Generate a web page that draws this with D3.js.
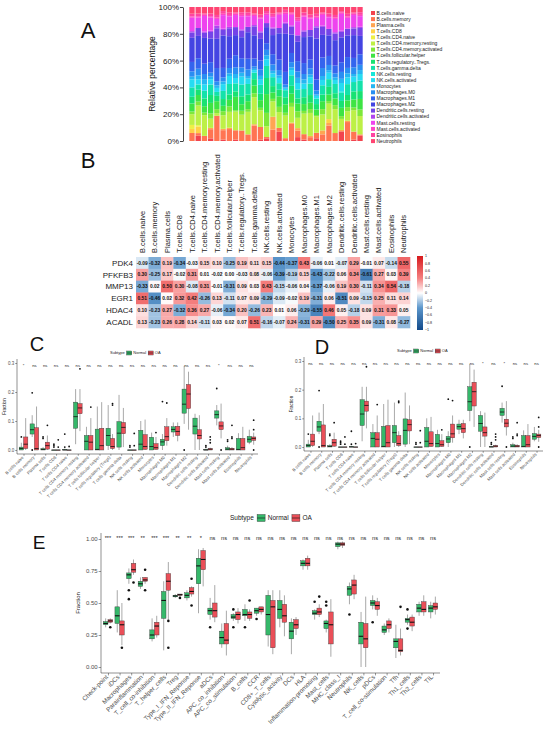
<!DOCTYPE html>
<html>
<head>
<meta charset="utf-8">
<script src="https://cdn.jsdelivr.net/npm/d3@7"></script>
<style>
  html, body { margin: 0; padding: 0; background: #fff; }
  svg { display: block; font-family: "Liberation Sans", Arial, sans-serif; }
</style>
</head>
<body>
<script>
(function () {
  'use strict';

  // ---- data -------------------------------------------------------------
  var cellTypes = ['B cells naive', 'B cells memory', 'Plasma cells', 'T cells CD8',
    'T cells CD4 naive', 'T cells CD4 memory resting', 'T cells CD4 memory activated',
    'T cells follicular helper', 'T cells regulatory (Tregs)', 'T cells gamma delta',
    'NK cells resting', 'NK cells activated', 'Monocytes', 'Macrophages M0',
    'Macrophages M1', 'Macrophages M2', 'Dendritic cells resting',
    'Dendritic cells activated', 'Mast cells resting', 'Mast cells activated',
    'Eosinophils', 'Neutrophils'];

  var sampleIds = ['S01', 'S02', 'S03', 'S04', 'S05', 'S06', 'S07', 'S08', 'S09', 'S10',
    'S11', 'S12', 'S13', 'S14', 'S15', 'S16', 'S17', 'S18', 'S19', 'S20',
    'S21', 'S22', 'S23', 'S24', 'S25', 'S26', 'S27', 'S28'];

  // relative abundance (%) per cell type (rows) and sample (columns), panel A
  var cellFractions = [
    [0, 4, 0, 2, 0, 1, 0, 1, 0, 0, 0, 1, 2, 0, 7, 0, 0, 3, 1, 0, 2, 0, 0, 0, 7, 0, 1, 4],
    [6, 2, 4, 7, 19, 7, 9, 7, 8, 5, 12, 10, 1, 9, 3, 2, 13, 5, 4, 3, 4, 5, 12, 6, 0, 14, 6, 1],
    [0, 0, 0, 1, 0, 1, 1, 0, 0, 0, 1, 0, 0, 10, 0, 0, 1, 2, 0, 1, 0, 3, 2, 0, 1, 1, 0, 0],
    [3, 5, 0, 0, 0, 0, 0, 0, 0, 0, 0, 0, 0, 0, 0, 0, 0, 0, 0, 0, 0, 0, 3, 0, 0, 0, 0, 0],
    [3, 1, 0, 0, 0, 0, 0, 0, 0, 0, 0, 0, 0, 0, 0, 0, 0, 0, 0, 0, 0, 0, 0, 0, 0, 0, 0, 0],
    [8, 15, 16, 7, 2, 10, 12, 14, 12, 17, 21, 13, 8, 12, 12, 16, 12, 8, 15, 18, 12, 12, 12, 18, 8, 7, 16, 14],
    [2, 3, 2, 4, 3, 3, 4, 1, 3, 2, 3, 2, 10, 2, 4, 2, 3, 5, 2, 3, 1, 4, 2, 3, 2, 3, 2, 5],
    [6, 5, 5, 8, 6, 4, 5, 10, 5, 6, 6, 6, 14, 5, 8, 6, 7, 6, 5, 5, 4, 6, 5, 5, 6, 5, 6, 8],
    [5, 4, 6, 6, 4, 5, 4, 4, 6, 5, 5, 5, 12, 5, 5, 5, 6, 4, 5, 6, 4, 5, 6, 4, 5, 4, 6, 6],
    [7, 4, 6, 8, 3, 6, 8, 6, 9, 8, 5, 7, 9, 7, 5, 5, 8, 7, 6, 9, 4, 7, 6, 7, 6, 8, 7, 8],
    [0, 0, 0, 0, 0, 0, 0, 0, 0, 0, 0, 0, 0, 0, 0, 0, 0, 0, 0, 0, 0, 0, 0, 0, 1, 0, 0, 0],
    [6, 4, 5, 4, 3, 5, 6, 4, 6, 4, 2, 4, 5, 3, 4, 1, 4, 5, 4, 5, 2, 4, 5, 3, 6, 5, 4, 5],
    [2, 3, 4, 2, 2, 2, 2, 3, 3, 2, 1, 3, 3, 2, 2, 1, 2, 4, 3, 2, 1, 3, 2, 2, 3, 3, 2, 3],
    [4, 5, 4, 3, 3, 3, 4, 5, 4, 5, 2, 5, 4, 5, 4, 2, 4, 5, 4, 5, 3, 6, 4, 3, 5, 4, 5, 4],
    [7, 8, 8, 8, 10, 7, 7, 9, 7, 8, 6, 7, 5, 8, 8, 9, 7, 8, 8, 7, 8, 8, 7, 6, 7, 8, 7, 8],
    [18, 17, 20, 18, 22, 24, 17, 15, 16, 20, 18, 17, 12, 15, 20, 27, 14, 15, 19, 18, 30, 17, 16, 19, 18, 16, 17, 14],
    [4, 6, 4, 5, 8, 4, 6, 6, 5, 4, 7, 5, 3, 5, 4, 7, 6, 5, 4, 5, 8, 6, 5, 5, 4, 5, 5, 6],
    [1, 0, 1, 1, 2, 1, 1, 0, 1, 0, 1, 1, 0, 1, 0, 1, 1, 0, 1, 0, 1, 1, 0, 1, 1, 0, 1, 1],
    [10, 8, 12, 10, 5, 10, 8, 9, 10, 8, 7, 10, 6, 8, 10, 6, 8, 11, 10, 9, 6, 8, 9, 10, 12, 8, 9, 8],
    [1, 1, 1, 1, 1, 1, 1, 1, 1, 1, 1, 1, 1, 1, 1, 1, 1, 1, 1, 1, 1, 1, 1, 1, 1, 1, 1, 1],
    [2, 2, 1, 2, 2, 2, 2, 1, 2, 2, 1, 2, 2, 2, 1, 2, 1, 2, 2, 2, 2, 1, 2, 2, 1, 2, 1, 2],
    [5, 5, 5, 5, 6, 3, 4, 4, 4, 4, 5, 6, 3, 5, 4, 2, 4, 8, 4, 6, 5, 4, 5, 6, 3, 5, 4, 4]
  ];

  // gene vs immune cell correlation, panel B
  var heatGenes = ['PDK4', 'PFKFB3', 'MMP13', 'EGR1', 'HDAC4', 'ACADL'];
  var corPDK4 = [-0.09, -0.32, 0.19, -0.34, -0.03, 0.15, 0.10, -0.25, 0.19, 0.11, 0.15, -0.44, -0.37, 0.43, -0.06, 0.01, -0.07, 0.29, -0.01, 0.07, -0.14, 0.55];
  var corPFKFB3 = [0.30, -0.25, 0.17, -0.02, 0.31, 0.01, -0.02, 0.00, -0.03, 0.08, -0.06, -0.39, -0.19, 0.15, -0.43, -0.22, 0.06, 0.34, -0.61, 0.27, 0.03, 0.39];
  var corMMP13 = [-0.33, 0.02, 0.50, 0.30, -0.08, 0.31, -0.01, -0.31, 0.09, 0.03, 0.43, -0.15, -0.06, 0.04, -0.37, -0.06, 0.19, 0.30, -0.11, 0.34, 0.54, -0.18];
  var corEGR1 = [0.51, -0.46, 0.02, 0.32, 0.42, -0.26, 0.13, -0.11, 0.07, 0.09, -0.29, -0.09, -0.02, 0.19, -0.31, 0.06, -0.51, 0.09, -0.15, 0.25, 0.11, 0.14];
  var corHDAC4 = [0.10, -0.23, 0.27, -0.32, 0.36, 0.27, -0.06, -0.34, 0.20, -0.26, 0.23, 0.01, 0.06, -0.29, -0.55, 0.46, 0.05, -0.18, 0.09, 0.31, 0.33, 0.05];
  var corACADL = [0.13, -0.23, 0.26, 0.28, 0.14, -0.11, 0.03, 0.02, 0.07, 0.51, -0.16, -0.07, 0.24, -0.31, 0.29, -0.50, 0.25, 0.35, 0.09, -0.31, 0.08, -0.27];
  var heatValues = [corPDK4, corPFKFB3, corMMP13, corEGR1, corHDAC4, corACADL];
  var heatLegendTicks = [1, 0.8, 0.6, 0.4, 0.2, 0, -0.2, -0.4, -0.6, -0.8, -1];

  // CIBERSORT fractions, panels C and D: [min, q1, median, q3, max]
  var cibNormal = [
    [0, 0, 0.005, 0.01, 0.025], [0.045, 0.055, 0.07, 0.09, 0.12], [0, 0, 0.002, 0.005, 0.01],
    [0, 0, 0, 0, 0], [0, 0, 0, 0.002, 0.005], [0.02, 0.075, 0.115, 0.165, 0.21],
    [0, 0, 0.03, 0.05, 0.08], [0, 0, 0.002, 0.072, 0.15], [0, 0.015, 0.05, 0.075, 0.155],
    [0, 0.01, 0.058, 0.098, 0.19], [0, 0, 0, 0, 0], [0, 0, 0.02, 0.068, 0.1],
    [0, 0, 0.012, 0.044, 0.06], [0, 0.015, 0.028, 0.037, 0.055], [0.045, 0.062, 0.071, 0.08, 0.095],
    [0.09, 0.127, 0.158, 0.21, 0.29], [0, 0.055, 0.082, 0.11, 0.125], [0, 0, 0, 0.002, 0.005],
    [0.085, 0.11, 0.122, 0.135, 0.155], [0, 0, 0.003, 0.008, 0.015], [0, 0, 0.002, 0.04, 0.058],
    [0.02, 0.027, 0.037, 0.047, 0.07]
  ];
  var cibOA = [
    [0, 0.005, 0.02, 0.045, 0.11], [0, 0, 0.005, 0.077, 0.15], [0, 0.003, 0.015, 0.027, 0.05],
    [0, 0, 0, 0, 0], [0, 0, 0, 0, 0], [0.065, 0.125, 0.145, 0.16, 0.21],
    [0, 0, 0.027, 0.05, 0.11], [0, 0, 0.015, 0.075, 0.165], [0, 0.005, 0.012, 0.04, 0.055],
    [0.01, 0.056, 0.078, 0.095, 0.145], [0, 0, 0, 0, 0], [0, 0.002, 0.012, 0.053, 0.105],
    [0, 0.002, 0.008, 0.022, 0.045], [0.015, 0.032, 0.046, 0.08, 0.11], [0.03, 0.05, 0.064, 0.082, 0.095],
    [0.07, 0.143, 0.193, 0.226, 0.27], [0, 0.038, 0.05, 0.07, 0.12], [0, 0, 0.003, 0.005, 0.008],
    [0.04, 0.07, 0.083, 0.097, 0.16], [0, 0, 0.003, 0.006, 0.01], [0, 0, 0.008, 0.04, 0.08],
    [0.018, 0.033, 0.04, 0.045, 0.06]
  ];
  var cibNormalOut = [[0.045], [0.197, 0], [0.04, 0.045], [0.01, 0.015, 0.02], [0.055, 0.01], [], [], [], [], [],
    [0.01, 0.015], [], [], [0.167], [], [0], [], [0.01, 0.015], [0.212], [0.03, 0.035], [], []];
  var cibOAOut = [[], [], [0.085], [0.035, 0.01], [0.012], [0.28], [0.148], [], [0.155, 0.16], [],
    [0.057, 0.015], [], [0.06], [0.162], [], [], [], [0.045, 0.035, 0.025], [0], [0.085, 0.045, 0.04], [], [0.103, 0.07, 0]];
  var sigC = ['*', 'ns', 'ns', 'ns', 'ns', 'ns', 'ns', 'ns', 'ns', 'ns', 'ns', 'ns', 'ns', 'ns', 'ns', 'ns', 'ns', 'ns', '*', 'ns', 'ns', 'ns'];
  var sigD = ['ns', 'ns', 'ns', 'ns', 'ns', 'ns', 'ns', 'ns', 'ns', 'ns', 'ns', 'ns', 'ns', 'ns', 'ns', 'ns', '*', 'ns', '*', 'ns', 'ns', 'ns'];

  // ssGSEA immune scores, panel E: [min, q1, median, q3, max]
  var immuneSets = ['Check-point', 'iDCs', 'Macrophages', 'Parainflammation', 'T_cell_co-inhibition',
    'T_helper_cells', 'Treg', 'Type_I_IFN_Reponse', 'Type_II_IFN_Reponse', 'aDCs',
    'APC_co_inhibition', 'APC_co_stimulation', 'B_cells', 'CCR', 'CD8+_T_cells',
    'Cytolytic_activity', 'DCs', 'HLA', 'Inflammation-promoting', 'Mast_cells',
    'MHC_class_I', 'Neutrophils', 'NK_cells', 'pDCs', 'T_cell_co-stimulation',
    'Tfh', 'Th1_cells', 'Th2_cells', 'TIL'];
  var essNormal = [
    [0.31, 0.33, 0.34, 0.355, 0.38], [0.27, 0.34, 0.40, 0.47, 0.60], [0.65, 0.69, 0.72, 0.735, 0.77],
    [0.61, 0.63, 0.65, 0.67, 0.70], [0.20, 0.22, 0.25, 0.29, 0.38], [0.13, 0.38, 0.52, 0.59, 0.67],
    [0.54, 0.548, 0.555, 0.56, 0.57], [0.52, 0.54, 0.56, 0.58, 0.60], [0.42, 0.65, 0.79, 0.85, 0.92],
    [0.37, 0.41, 0.44, 0.46, 0.54], [0.15, 0.18, 0.23, 0.28, 0.34], [0.36, 0.38, 0.39, 0.41, 0.42],
    [0.36, 0.40, 0.41, 0.45, 0.49], [0.40, 0.42, 0.44, 0.46, 0.46], [0.16, 0.25, 0.41, 0.56, 0.60],
    [0.31, 0.38, 0.45, 0.52, 0.60], [0.10, 0.22, 0.28, 0.35, 0.38], [0.76, 0.79, 0.81, 0.83, 0.84],
    [0.37, 0.41, 0.42, 0.44, 0.45], [0.27, 0.30, 0.34, 0.36, 0.37], [0.92, 0.94, 0.96, 0.97, 0.98],
    [0.49, 0.56, 0.61, 0.63, 0.66], [0.00, 0.18, 0.24, 0.35, 0.43], [0.45, 0.48, 0.50, 0.52, 0.56],
    [0.25, 0.27, 0.29, 0.32, 0.34], [0.07, 0.15, 0.20, 0.22, 0.33], [0.33, 0.35, 0.37, 0.38, 0.41],
    [0.40, 0.43, 0.46, 0.49, 0.51], [0.38, 0.43, 0.46, 0.48, 0.51]
  ];
  var essOA = [
    [0.34, 0.35, 0.36, 0.37, 0.38], [0.17, 0.25, 0.33, 0.36, 0.50], [0.72, 0.74, 0.76, 0.81, 0.84],
    [0.65, 0.67, 0.68, 0.70, 0.70], [0.23, 0.25, 0.32, 0.35, 0.40], [0.37, 0.60, 0.67, 0.73, 0.82],
    [0.555, 0.56, 0.565, 0.57, 0.57], [0.55, 0.57, 0.59, 0.62, 0.63], [0.63, 0.76, 0.84, 0.91, 0.93],
    [0.35, 0.39, 0.44, 0.50, 0.64], [0.09, 0.18, 0.21, 0.34, 0.44], [0.34, 0.37, 0.41, 0.43, 0.46],
    [0.36, 0.38, 0.41, 0.43, 0.45], [0.41, 0.43, 0.45, 0.47, 0.47], [0.10, 0.15, 0.47, 0.52, 0.60],
    [0.24, 0.35, 0.40, 0.49, 0.56], [0.25, 0.30, 0.33, 0.37, 0.39], [0.76, 0.79, 0.81, 0.85, 0.87],
    [0.39, 0.41, 0.43, 0.46, 0.49], [0.08, 0.18, 0.33, 0.43, 0.53], [0.93, 0.95, 0.96, 0.97, 0.98],
    [0.53, 0.57, 0.64, 0.68, 0.72], [0.00, 0.15, 0.22, 0.34, 0.55], [0.40, 0.45, 0.48, 0.51, 0.54],
    [0.27, 0.30, 0.33, 0.36, 0.38], [0.09, 0.12, 0.13, 0.22, 0.30], [0.28, 0.32, 0.35, 0.39, 0.41],
    [0.40, 0.43, 0.45, 0.51, 0.56], [0.41, 0.45, 0.47, 0.50, 0.55]
  ];
  var essNormalOut = [[], [], [0.60, 0.53], [], [], [], [], [], [], [0.31], [], [0.45, 0.31], [0.31], [0.375], [],
    [], [], [], [0.51], [0.48, 0.51], [], [0.41], [], [0.35], [], [], [0.45, 0.30], [], []];
  var essOAOut = [[0.31], [0.15], [0.66], [0.76, 0.60], [], [0.36, 0.15], [0.54], [0.69, 0.48], [], [], [], [],
    [0.52], [], [], [], [], [], [0.55], [], [], [], [], [], [], [0.47], [], [], []];
  var sigE = ['***', '***', '***', '**', '***', '***', '**', '**', '*', 'ns', 'ns', 'ns', 'ns', 'ns', 'ns',
    'ns', 'ns', 'ns', 'ns', 'ns', 'ns', 'ns', 'ns', 'ns', 'ns', 'ns', 'ns', 'ns', 'ns'];

  // ---- styles -----------------------------------------------------------
  var cellColors = ['#f2444e', '#ff7452', '#ffa552', '#ffd146', '#eef044', '#bdf046',
    '#7ee83a', '#3ee444', '#18e272', '#14e2aa', '#16e6d8', '#26dcf2', '#26b6f2',
    '#2a8ef2', '#3464ee', '#4444e2', '#7444e8', '#b044f0', '#ee44ee', '#ff44c8',
    '#ff44a2', '#ff4472'];
  var groupColors = { Normal: '#35b86a', OA: '#ea4f58' };

  var svg = d3.select('body').append('svg')
    .attr('width', 550)
    .attr('height', 733);

  init();

  function init() {
    drawLetters();
    drawStack();
    drawHeatmap();
    drawBoxPanel({
      cats: cellTypes, normal: cibNormal, oa: cibOA, normalOut: cibNormalOut, oaOut: cibOAOut, sig: sigC,
      x0: 17, x1: 258, y0: 450, y1: 363, yMax: 0.3, axisTop: 359, axisBottom: 454,
      ticks: [0, 0.1, 0.2, 0.3], tickFmt: d3.format('.1f'), fs: 4.5, labFs: 4.3, sigFs: 4.2,
      sigVal: 0.29, r: 0.9, labelX: 6, legendX: 110, legendY: 353, legendFs: 4, box: [5, 4]
    });
    drawBoxPanel({
      cats: cellTypes, normal: cibNormal, oa: cibOA, normalOut: cibNormalOut, oaOut: cibOAOut, sig: sigD,
      x0: 304, x1: 543, y0: 447, y1: 361, yMax: 0.3, axisTop: 357, axisBottom: 451,
      ticks: [0, 0.1, 0.2, 0.3], tickFmt: d3.format('.1f'), fs: 4.5, labFs: 4.3, sigFs: 4.2,
      sigVal: 0.29, r: 0.9, labelX: 293, legendX: 397, legendY: 351, legendFs: 4, box: [5, 4]
    });
    drawBoxPanel({
      cats: immuneSets, normal: essNormal, oa: essOA, normalOut: essNormalOut, oaOut: essOAOut, sig: sigE,
      x0: 101, x1: 440, y0: 667, y1: 539, yMax: 1, axisTop: 533, axisBottom: 673,
      ticks: [0, 0.25, 0.5, 0.75, 1], tickFmt: d3.format('.2f'), fs: 6, labFs: 6.3, sigFs: 5.6,
      sigVal: 1.01, r: 1.3, labelX: 80, legendX: 230, legendY: 518, legendFs: 6.5, box: [8, 7]
    });
  }

  function drawLetters() {
    var letters = [['A', 88, 38, 22], ['B', 88, 168, 22], ['C', 37, 351, 20], ['D', 322, 354, 20], ['E', 39, 549, 19]];
    svg.selectAll('text.letter')
      .data(letters)
      .enter()
      .append('text')
      .attr('class', 'letter')
      .attr('x', function (d) { return d[1]; })
      .attr('y', function (d) { return d[2]; })
      .attr('font-size', function (d) { return d[3]; })
      .attr('text-anchor', 'middle')
      .attr('fill', '#111')
      .text(function (d) { return d[0]; });
  }

  function dotted(name) {
    return name.replace(/[^A-Za-z0-9]/g, '.');
  }

  function drawStack() {
    var g = svg.append('g');
    var x = d3.scaleBand().domain(sampleIds).range([189, 363]).paddingInner(0.14).paddingOuter(0.05);
    var y = d3.scaleLinear().domain([0, 1]).range([141, 7]);
    var keys = d3.range(cellTypes.length);

    var rows = sampleIds.map(function (s, j) {
      var total = d3.sum(cellFractions, function (r) { return r[j]; });
      var row = { id: s };
      keys.forEach(function (k) { row[k] = cellFractions[k][j] / total; });
      return row;
    });

    var series = d3.stack().keys(keys)(rows);

    g.selectAll('g.layer')
      .data(series)
      .enter()
      .append('g')
      .attr('fill', function (d) { return cellColors[d.key]; })
      .selectAll('rect')
      .data(function (d) { return d; })
      .enter()
      .append('rect')
      .attr('x', function (d) { return x(d.data.id); })
      .attr('width', x.bandwidth())
      .attr('y', function (d) { return y(d[1]); })
      .attr('height', function (d) { return Math.max(0, y(d[0]) - y(d[1])); });

    var ax = g.append('g')
      .attr('transform', 'translate(183,0)')
      .call(d3.axisLeft(y).tickValues([0, 0.2, 0.4, 0.6, 0.8, 1])
        .tickFormat(d3.format('.0%')).tickSize(3).tickSizeOuter(0).tickPadding(1));
    ax.selectAll('text').attr('font-size', 8).attr('fill', '#222').attr('font-family', null);
    ax.selectAll('line, path').attr('stroke', '#444');

    g.append('text')
      .attr('transform', 'translate(155,74) rotate(-90)')
      .attr('text-anchor', 'middle')
      .attr('font-size', 8.5)
      .attr('fill', '#111')
      .text('Relative percentage');

    var leg = g.selectAll('g.leg')
      .data(cellTypes)
      .enter()
      .append('g')
      .attr('transform', function (d, i) { return 'translate(371,' + (13 + i * 6.1) + ')'; });
    leg.append('rect')
      .attr('x', 0).attr('y', -2).attr('width', 4).attr('height', 4)
      .attr('fill', function (d, i) { return cellColors[i]; });
    leg.append('text')
      .attr('x', 5.5)
      .attr('dy', '0.35em')
      .attr('font-size', 5)
      .attr('fill', '#222')
      .text(function (d) { return dotted(d); });
  }

  function drawHeatmap() {
    var g = svg.append('g');
    var x = d3.scaleBand().domain(cellTypes).range([136, 410]);
    var y = d3.scaleBand().domain(heatGenes).range([257, 328]);
    var color = d3.scaleLinear()
      .domain([-1, -0.4, 0, 0.4, 1])
      .range(['#134a8a', '#5c97cc', '#ffffff', '#f58080', '#d7191c']);

    var cells = [];
    heatGenes.forEach(function (gene, i) {
      cellTypes.forEach(function (c, j) {
        cells.push({ gene: gene, cell: c, v: heatValues[i][j] });
      });
    });

    g.selectAll('rect.cell')
      .data(cells)
      .enter()
      .append('rect')
      .attr('x', function (d) { return x(d.cell); })
      .attr('y', function (d) { return y(d.gene); })
      .attr('width', x.bandwidth() + 0.3)
      .attr('height', y.bandwidth() + 0.3)
      .attr('fill', function (d) { return color(d.v); });

    g.selectAll('text.val')
      .data(cells)
      .enter()
      .append('text')
      .attr('x', function (d) { return x(d.cell) + x.bandwidth() / 2; })
      .attr('y', function (d) { return y(d.gene) + y.bandwidth() / 2; })
      .attr('dy', '0.35em')
      .attr('text-anchor', 'middle')
      .attr('font-size', 4.9)
      .attr('font-weight', 'bold')
      .attr('fill', '#111')
      .text(function (d) { return d.v.toFixed(2); });

    g.selectAll('text.row')
      .data(heatGenes)
      .enter()
      .append('text')
      .attr('x', 133)
      .attr('y', function (d) { return y(d) + y.bandwidth() / 2; })
      .attr('dy', '0.35em')
      .attr('text-anchor', 'end')
      .attr('font-size', 8)
      .attr('fill', '#222')
      .text(function (d) { return d; });

    g.selectAll('text.col')
      .data(cellTypes)
      .enter()
      .append('text')
      .attr('transform', function (d) {
        return 'translate(' + (x(d) + x.bandwidth() / 2) + ',253) rotate(-90)';
      })
      .attr('dy', '0.35em')
      .attr('font-size', 7.5)
      .attr('fill', '#222')
      .text(function (d) { return dotted(d); });

    // colour key
    var defs = svg.append('defs');
    var grad = defs.append('linearGradient')
      .attr('id', 'heatGrad')
      .attr('x1', 0).attr('y1', 1).attr('x2', 0).attr('y2', 0);
    d3.range(-1, 1.01, 0.1).forEach(function (v) {
      grad.append('stop')
        .attr('offset', ((v + 1) / 2 * 100) + '%')
        .attr('stop-color', color(v));
    });
    var ky = d3.scaleLinear().domain([-1, 1]).range([330, 256]);
    g.append('rect')
      .attr('x', 417).attr('y', 256).attr('width', 6).attr('height', 74)
      .attr('fill', 'url(#heatGrad)');
    g.selectAll('text.key')
      .data(heatLegendTicks)
      .enter()
      .append('text')
      .attr('x', 425)
      .attr('y', function (d) { return ky(d); })
      .attr('dy', '0.35em')
      .attr('font-size', 3.6)
      .attr('fill', '#222')
      .text(function (d) { return d3.format('~g')(d); });
  }

  function drawLegend(o) {
    var g = svg.append('g');
    var cx = o.legendX;
    var items = [['text', 'Subtype'], ['box', 'Normal'], ['text', 'Normal'], ['box', 'OA'], ['text', 'OA']];
    items.forEach(function (it) {
      if (it[0] === 'text') {
        var t = g.append('text')
          .attr('x', cx)
          .attr('y', o.legendY)
          .attr('dy', '0.35em')
          .attr('font-size', o.legendFs)
          .attr('fill', '#222')
          .text(it[1]);
        cx += t.node().getComputedTextLength() + o.legendFs * 0.5;
      } else {
        g.append('rect')
          .attr('x', cx)
          .attr('y', o.legendY - o.box[1] / 2)
          .attr('width', o.box[0])
          .attr('height', o.box[1])
          .attr('fill', groupColors[it[1]])
          .attr('stroke', '#333')
          .attr('stroke-width', 0.4);
        g.append('line')
          .attr('x1', cx).attr('x2', cx + o.box[0])
          .attr('y1', o.legendY).attr('y2', o.legendY)
          .attr('stroke', '#111').attr('stroke-width', 0.6);
        cx += o.box[0] + o.legendFs * 0.4;
      }
    });
  }

  function drawBoxPanel(o) {
    var g = svg.append('g');
    var x = d3.scalePoint().domain(o.cats).range([o.x0, o.x1]).padding(0.6);
    var y = d3.scaleLinear().domain([0, o.yMax]).range([o.y0, o.y1]);
    var step = x.step();
    var bw = step * 0.4;
    var groups = [
      { name: 'Normal', stats: o.normal, out: o.normalOut, off: -step * 0.2 },
      { name: 'OA', stats: o.oa, out: o.oaOut, off: step * 0.2 }
    ];

    groups.forEach(function (grp) {
      var data = o.cats.map(function (c, i) {
        return { cat: c, s: grp.stats[i], out: grp.out[i] };
      });
      var gg = g.append('g');
      var b = gg.selectAll('g.box')
        .data(data)
        .enter()
        .append('g')
        .attr('transform', function (d) { return 'translate(' + (x(d.cat) + grp.off) + ',0)'; });

      b.append('line')
        .attr('x1', 0).attr('x2', 0)
        .attr('y1', function (d) { return y(d.s[0]); })
        .attr('y2', function (d) { return y(d.s[4]); })
        .attr('stroke', '#6e6e6e')
        .attr('stroke-width', 0.6);
      b.append('rect')
        .attr('x', -bw / 2)
        .attr('width', bw)
        .attr('y', function (d) { return y(d.s[3]); })
        .attr('height', function (d) { return Math.max(0.3, y(d.s[1]) - y(d.s[3])); })
        .attr('fill', groupColors[grp.name])
        .attr('stroke', '#3a3a3a')
        .attr('stroke-width', 0.4);
      b.append('line')
        .attr('x1', -bw / 2).attr('x2', bw / 2)
        .attr('y1', function (d) { return y(d.s[2]); })
        .attr('y2', function (d) { return y(d.s[2]); })
        .attr('stroke', '#111')
        .attr('stroke-width', o.r > 1 ? 1.1 : 0.8);
      b.selectAll('circle')
        .data(function (d) { return d.out; })
        .enter()
        .append('circle')
        .attr('cx', 0)
        .attr('cy', function (v) { return y(v); })
        .attr('r', o.r)
        .attr('fill', '#111');
    });

    // axes
    g.append('line')
      .attr('x1', o.x0).attr('x2', o.x0)
      .attr('y1', o.axisTop).attr('y2', o.axisBottom)
      .attr('stroke', '#222').attr('stroke-width', 0.5);
    g.append('line')
      .attr('x1', o.x0).attr('x2', o.x1)
      .attr('y1', o.axisBottom).attr('y2', o.axisBottom)
      .attr('stroke', '#222').attr('stroke-width', 0.5);

    var ya = g.append('g')
      .attr('transform', 'translate(' + o.x0 + ',0)')
      .call(d3.axisLeft(y).tickValues(o.ticks).tickFormat(o.tickFmt)
        .tickSize(o.fs * 0.4).tickSizeOuter(0).tickPadding(1));
    ya.select('.domain').remove();
    ya.selectAll('text').attr('font-size', o.fs).attr('fill', '#4d4d4d').attr('font-family', null);
    ya.selectAll('line').attr('stroke', '#333').attr('stroke-width', 0.5);

    var xa = g.append('g')
      .attr('transform', 'translate(0,' + o.axisBottom + ')')
      .call(d3.axisBottom(x).tickSize(o.fs * 0.4).tickSizeOuter(0));
    xa.select('.domain').remove();
    xa.selectAll('line').attr('stroke', '#333').attr('stroke-width', 0.5);
    xa.selectAll('text')
      .attr('font-size', o.labFs)
      .attr('fill', '#4d4d4d')
      .attr('font-family', null)
      .attr('text-anchor', 'end')
      .attr('dy', null)
      .attr('y', 0)
      .attr('transform', 'translate(0,' + (o.fs * 0.6 + 1) + ') rotate(-45)');

    g.append('text')
      .attr('transform', 'translate(' + o.labelX + ',' + ((o.y0 + o.y1) / 2) + ') rotate(-90)')
      .attr('text-anchor', 'middle')
      .attr('font-size', o.fs)
      .attr('fill', '#222')
      .text('Fraction');

    g.selectAll('text.sig')
      .data(o.cats)
      .enter()
      .append('text')
      .attr('x', function (d) { return x(d); })
      .attr('y', y(o.sigVal))
      .attr('dy', '0.35em')
      .attr('text-anchor', 'middle')
      .attr('font-size', o.sigFs)
      .attr('fill', '#222')
      .text(function (d, i) { return o.sig[i]; });

    drawLegend(o);
  }
}());
</script>
</body>
</html>
